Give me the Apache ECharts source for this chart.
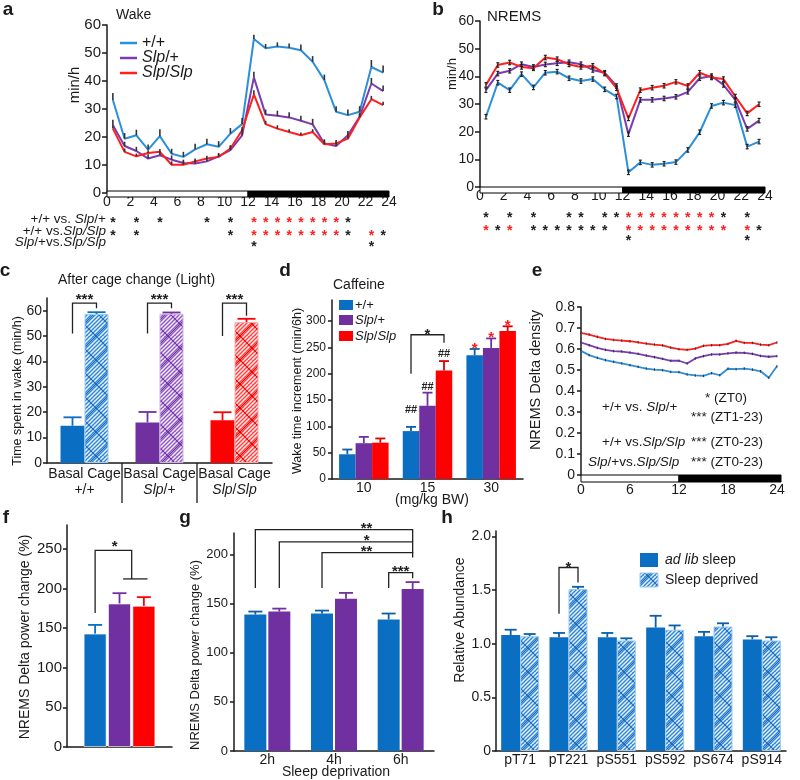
<!DOCTYPE html>
<html>
<head>
<meta charset="utf-8">
<script src="https://cdn.jsdelivr.net/npm/echarts@6.0.0/dist/echarts.min.js"></script>
<style>
html,body{margin:0;padding:0;background:#ffffff;}
#chart{width:800px;height:780px;}
</style>
</head>
<body>
<div id="chart"></div>
<script>
// ================= DATA =================
// Panel a / b : hourly values (ZT, half-hour centred)
const hours = [0.5,1.5,2.5,3.5,4.5,5.5,6.5,7.5,8.5,9.5,10.5,11.5,12.5,13.5,14.5,15.5,16.5,17.5,18.5,19.5,20.5,21.5,22.5,23.5];
const minhTicks = [0,10,20,30,40,50,60];

const wakeWT  = [33.2,19.4,20.6,15.5,20.3,14.0,12.9,15.6,17.4,16.5,21.2,24.6,55.0,51.7,52.3,51.9,51.0,46.9,40.3,29.0,27.8,29.0,45.0,43.0];
const wakeHet = [24.2,16.8,15.0,12.3,13.5,11.9,10.7,10.5,11.3,13.1,15.3,20.6,41.3,28.0,27.6,27.0,25.8,24.5,17.7,16.8,20.6,27.2,39.1,36.4];
const wakeHom = [23.0,14.7,13.1,14.3,14.7,10.1,10.1,11.3,12.3,12.9,15.9,22.4,35.2,24.6,23.0,21.8,20.6,21.8,17.4,17.7,19.4,27.0,33.5,31.4];
const wakeErrWT  = [2.5,2.0,2.0,1.8,2.5,1.8,1.8,2.0,2.0,2.0,2.0,2.2,1.5,1.5,1.5,1.5,2.0,2.0,2.0,2.0,2.0,2.0,2.5,2.5];
const wakeErrHet = [2.0,1.5,1.5,1.5,1.5,1.5,1.2,1.2,1.2,1.2,1.5,2.0,2.0,1.8,1.8,1.8,1.8,2.0,1.5,1.5,1.5,1.5,2.0,2.0];
const wakeErrHom = [1.2,1.2,1.0,1.0,1.0,1.2,1.2,1.0,1.0,1.0,1.2,1.2,1.5,1.2,1.2,1.0,1.0,1.0,1.2,1.2,1.2,1.2,1.2,1.2];

const nremWT  = [25.4,37.7,35.0,40.8,36.0,41.3,41.7,39.3,38.3,39.0,35.3,32.7,5.3,8.9,8.0,8.4,9.0,13.4,19.8,29.3,30.5,29.6,14.6,16.4];
const nremHet = [35.0,41.0,42.0,44.4,43.4,44.3,44.7,45.1,44.4,42.3,41.3,36.5,19.1,31.5,31.5,32.0,32.6,34.4,39.3,40.1,36.9,31.5,21.0,24.0];
const nremHom = [36.9,44.1,45.0,43.4,42.9,46.8,46.2,44.3,43.4,43.8,41.0,35.7,24.8,35.0,35.9,36.6,38.0,36.5,41.3,39.6,39.0,32.7,26.6,29.9];
const nremErr = [0.8,0.8,0.8,0.8,0.8,0.8,0.8,0.8,0.8,0.8,0.8,0.8,0.8,0.8,0.8,0.8,0.8,0.8,0.8,0.8,0.8,0.8,0.8,0.8];

const lightDarkSpans = [[0,12],[12,24]];
const lightDarkSpansE = [[0,12],[12,24.5]];

// significance rows (hours where a star is drawn)
const aStars = [
  {black:[0.5,2.5,4.5,8.5,10.5,20.5], red:[12.5,13.5,14.5,15.5,16.5,17.5,18.5,19.5]},
  {black:[0.5,2.5,10.5,20.5,23.5], red:[12.5,13.5,14.5,15.5,16.5,17.5,18.5,19.5,22.5]},
  {black:[12.5,22.5], red:[]}
];
const bStars = [
  {black:[0.5,2.5,4.5,7.5,8.5,10.5,11.5,20.5,22.5], red:[12.5,13.5,14.5,15.5,16.5,17.5,18.5,19.5]},
  {black:[1.5,4.5,5.5,6.5,7.5,8.5,9.5,10.5,23.5], red:[0.5,2.5,12.5,13.5,14.5,15.5,16.5,17.5,18.5,19.5,20.5,22.5]},
  {black:[12.5,22.5], red:[]}
];
const starRowLabels = ['+/+ vs. {i|Slp}/+', '+/+ vs.{i|Slp/Slp}', '{i|Slp}/+vs.{i|Slp/Slp}'];

// Panel c
const cGroups = ['+/+','Slp/+','Slp/Slp'];
const cTicks = [0,10,20,30,40,50,60];
const cBasal = [14.7,16.0,16.8];
const cBasalErr = [3.3,4.1,3.2];
const cCage = [58.7,58.8,55.5];
const cCageErr = [0.7,0.5,1.3];

// Panel d
const dDoses = ['10','15','30'];
const dTicks = [0,50,100,150,200,250,300];
const dWT = [47,91,235],  dWTErr = [9,8,12];
const dHet = [68,139,249], dHetErr = [12,25,18];
const dHom = [69,206,281], dHomErr = [8,18,9];

// Panel e
const eHours = [0,1,2,3,4,5,6,7,8,9,10,11,12,13,14,15,16,17,18,19,20,21,22,23,24];
const eTicksX = [0,6,12,18,24];
const eTicksY = [0,0.1,0.2,0.3,0.4,0.5,0.6,0.7,0.8];
const eHom = [0.677,0.669,0.658,0.648,0.643,0.640,0.637,0.632,0.626,0.621,0.617,0.607,0.599,0.596,0.602,0.615,0.618,0.618,0.624,0.639,0.629,0.629,0.621,0.618,0.631];
const eHet = [0.631,0.618,0.605,0.596,0.590,0.588,0.583,0.577,0.569,0.561,0.553,0.544,0.544,0.531,0.555,0.566,0.574,0.574,0.579,0.583,0.582,0.577,0.567,0.563,0.566];
const eWT  = [0.591,0.571,0.558,0.547,0.539,0.531,0.523,0.515,0.507,0.502,0.499,0.491,0.490,0.479,0.474,0.472,0.485,0.475,0.506,0.504,0.507,0.502,0.494,0.463,0.518];
const eErr = [0.006,0.006,0.006,0.006,0.006,0.006,0.006,0.006,0.006,0.006,0.006,0.006,0.006,0.006,0.006,0.006,0.006,0.006,0.006,0.006,0.006,0.006,0.006,0.006,0.006];

// Panel f
const fTicks = [0,50,100,150,200,250];
const fVals = [143,181,178];
const fErr = [11,13,11];

// Panel g
const gCats = ['2h','4h','6h'];
const gTicks = [0,50,100,150,200];
const gWT = [139,140,134], gWTErr = [3,3,6];
const gHet = [142,155,165], gHetErr = [3,6,7];

// Panel h
const hCats = ['pT71','pT221','pS551','pS592','pS674','pS914'];
const hTicks = [0,0.5,1.0,1.5,2.0];
const hAdlib = [1.08,1.06,1.06,1.15,1.07,1.04];
const hAdlibErr = [0.05,0.04,0.04,0.11,0.04,0.03];
const hSD = [1.07,1.51,1.03,1.13,1.16,1.03];
const hSDErr = [0.02,0.02,0.02,0.04,0.03,0.03];

// ================= STYLE =================
const FONT = "'Liberation Sans', Arial, Helvetica, sans-serif";
const INK = '#1a1a1a';
const LC = {blue:'#2b8fd9', purple:'#7a3cb0', red:'#ff1f1f'};
const BC = {blue:'#0a6fc2', purple:'#7030a0', red:'#ff0000'};

function hatch(base, lattice) {
  const s = 24;
  const cv = document.createElement('canvas');
  cv.width = s; cv.height = s;
  const g = cv.getContext('2d');
  g.fillStyle = base; g.fillRect(0,0,s,s);
  g.strokeStyle = 'rgba(255,255,255,0.9)'; g.lineWidth = 1.5;
  for (let k = -s; k <= 2*s; k += 4) { g.beginPath(); g.moveTo(k, s); g.lineTo(k + s, 0); g.stroke(); }
  g.strokeStyle = lattice; g.lineWidth = 1.2;
  g.beginPath(); g.moveTo(0,0); g.lineTo(s,s); g.stroke();
  g.beginPath(); g.moveTo(0,s); g.lineTo(s,0); g.stroke();
  return cv;
}
const PAT = {
  blue: hatch('#2f87d6', '#1a6cbc'),
  purple: hatch('#9158c4', '#7231a6'),
  red: hatch('#ff4242', '#e20000')
};
const BORDER = {blue:'#9ccbf0', purple:'#cdb0e6', red:'#ffa8a8'};

const RICH = (size) => ({i:{fontStyle:'italic', fontSize:size, fontFamily:FONT, fill:INK, color:INK}});

// ================= HELPERS =================
function yAx(gi, max, ticks, fs, margin, tickLen, fmt) {
  return {
    type:'value', gridIndex:gi, min:0, max:max, interval: ticks[1]-ticks[0],
    axisLine:{show:true, lineStyle:{color:INK, width:1.5}},
    axisTick:{show:true, length:tickLen, lineStyle:{color:INK, width:1.5}, customValues:ticks},
    axisLabel:{color:INK, fontSize:fs, fontFamily:FONT, margin:margin, customValues:ticks, showMaxLabel:true,
      formatter: fmt || (v => String(v))},
    splitLine:{show:false}
  };
}
function xVal(gi, max, interval, fs, margin, ticks) {
  return {
    type:'value', gridIndex:gi, min:0, max:max, interval:interval,
    axisLine:{show:false}, axisTick:{show:false}, splitLine:{show:false},
    axisLabel:{color:INK, fontSize:fs, fontFamily:FONT, margin:margin, customValues:ticks}
  };
}
function xCat(gi, cats, fs, margin, extra) {
  return Object.assign({
    type:'category', gridIndex:gi, data:cats,
    axisLine:{show:true, lineStyle:{color:INK, width:1.5}},
    axisTick:{show:false}, splitLine:{show:false},
    axisLabel:{color:INK, fontSize:fs, fontFamily:FONT, margin:margin, interval:0}
  }, extra || {});
}
function lineS(gi, xs, ys, color, w) {
  return {type:'line', xAxisIndex:gi, yAxisIndex:gi, data: xs.map((x,i)=>[x, ys[i]]),
    symbol:'none', showSymbol:false, lineStyle:{color:color, width:w}, itemStyle:{color:color}, silent:true, z:2};
}
function errS(gi, xs, ys, errs, o) {
  return {type:'custom', xAxisIndex:gi, yAxisIndex:gi, clip:false, silent:true, z:o.z || 3,
    data: xs.map((x,i)=>[x, ys[i], errs[i]]), encode:{x:0, y:1},
    renderItem(params, api) {
      const x = api.value(0), y = api.value(1), e = api.value(2);
      const p0 = api.coord([x, o.both ? y - e : y]), p1 = api.coord([x, y + e]);
      const st = {stroke:o.color, lineWidth:o.lw};
      const ch = [{type:'line', shape:{x1:p0[0], y1:p0[1], x2:p1[0], y2:p1[1]}, style:st}];
      if (o.cap) {
        ch.push({type:'line', shape:{x1:p1[0]-o.cap, y1:p1[1], x2:p1[0]+o.cap, y2:p1[1]}, style:st});
        if (o.both) ch.push({type:'line', shape:{x1:p0[0]-o.cap, y1:p0[1], x2:p0[0]+o.cap, y2:p0[1]}, style:st});
      }
      return {type:'group', children:ch};
    }};
}
function lightDark(gi, spans, off, h) {
  return {type:'custom', xAxisIndex:gi, yAxisIndex:gi, clip:false, silent:true, z:4,
    data: spans.map((s,i)=>[s[0], 0, s[1], i]), encode:{x:0, y:1},
    renderItem(params, api) {
      const a = api.coord([api.value(0), 0]), b = api.coord([api.value(2), 0]);
      const dark = api.value(3) === 1;
      return {type:'rect', shape:{x:a[0], y:a[1]+off, width:b[0]-a[0], height:h},
        style:{fill: dark ? '#000000' : '#ffffff', stroke:'#000000', lineWidth:1}};
    }};
}
function starRows(gi, rows, offs) {
  const pts = [];
  rows.forEach((r, ri) => {
    r.black.forEach(h => pts.push([h, 0, ri, 0]));
    r.red.forEach(h => pts.push([h, 0, ri, 1]));
  });
  return {type:'custom', xAxisIndex:gi, yAxisIndex:gi, clip:false, silent:true, z:6,
    data: pts, encode:{x:0, y:1},
    renderItem(params, api) {
      const p = api.coord([api.value(0), 0]);
      return {type:'text', style:{text:'*', x:p[0], y:p[1] + offs[api.value(2)] + 4,
        textAlign:'center', textVerticalAlign:'middle',
        font:"bold 14px 'Liberation Sans', Arial, sans-serif",
        fill: api.value(3) === 1 ? '#ff2020' : '#222222'}};
    }};
}
function bar(gi, vals, w, gap, colorFn, extra) {
  return Object.assign({type:'bar', xAxisIndex:gi, yAxisIndex:gi, barWidth:w, barGap:gap, silent:true, z:2,
    data: vals.map((v,i)=>({value:v, itemStyle: colorFn(i)}))}, extra || {});
}
function barErr(gi, n, step, groups, cap, lw) {
  const items = [];
  groups.forEach(g => g.vals.forEach((v, ci) => items.push({c:ci, s:g.slot, v:v, e:g.errs[ci],
    col: Array.isArray(g.color) ? g.color[ci] : g.color})));
  return {type:'custom', xAxisIndex:gi, yAxisIndex:gi, clip:false, silent:true, z:3,
    data: items.map(it => [it.c, it.v + it.e]), encode:{x:0, y:1},
    renderItem(params, api) {
      const it = items[params.dataIndex];
      const b = api.coord([it.c, it.v]), t = api.coord([it.c, it.v + it.e]);
      const x = b[0] + (it.s - (n-1)/2) * step;
      const st = {stroke:it.col, lineWidth:lw};
      return {type:'group', children:[
        {type:'line', shape:{x1:x, y1:b[1], x2:x, y2:t[1]}, style:st},
        {type:'line', shape:{x1:x-cap, y1:t[1], x2:x+cap, y2:t[1]}, style:st}
      ]};
    }};
}
function brackets(gi, list, n, step, fs, dy) {
  return {type:'custom', xAxisIndex:gi, yAxisIndex:gi, clip:false, silent:true, z:10,
    data: list.map(b => [b.l[0], b.top]), encode:{x:0, y:1},
    renderItem(params, api) {
      const b = list[params.dataIndex];
      const X = (c, s) => api.coord([c, 0])[0] + (s - (n-1)/2) * step;
      const Y = v => api.coord([0, v])[1];
      const xl = X(b.l[0], b.l[1]), xr = X(b.r[0], b.r[1]), yt = Y(b.top);
      const st = {stroke:'#222222', lineWidth:1.3, fill:'none'};
      const ch = [{type:'polyline', shape:{points:[[xl, Y(b.l[2])], [xl, yt], [xr, yt], [xr, Y(b.r[2])]]}, style:st}];
      if (b.sub) ch.push({type:'line', shape:{x1:X(b.l[0], b.sub[0]), y1:Y(b.r[2]), x2:X(b.l[0], b.sub[1]), y2:Y(b.r[2])}, style:st});
      const tx = b.t ? X(b.t[0], b.t[1]) : (xl + xr) / 2;
      ch.push({type:'text', style:{text:b.text, x:tx, y:yt + dy, textAlign:'center', textVerticalAlign:'bottom',
        font:"bold " + fs + "px 'Liberation Sans', Arial, sans-serif", fill:'#222222'}});
      return {type:'group', children:ch};
    }};
}
function marks(gi, list, n, step) {
  return {type:'custom', xAxisIndex:gi, yAxisIndex:gi, clip:false, silent:true, z:10,
    data: list.map(m => [m.c, m.v]), encode:{x:0, y:1},
    renderItem(params, api) {
      const m = list[params.dataIndex];
      const p = api.coord([m.c, m.v]);
      return {type:'text', style:{text:m.t, x:p[0] + (m.s - (n-1)/2) * step, y:p[1] + (m.dy || 0),
        textAlign:'center', textVerticalAlign:'middle',
        font:"bold " + m.fs + "px 'Liberation Sans', Arial, sans-serif", fill:m.col}};
    }};
}

// ============ annotations (data-space) ============
const cBrackets = [
  {l:[0,0,51], r:[0,1,61], top:63, text:'***'},
  {l:[1,0,51], r:[1,1,61], top:63, text:'***'},
  {l:[2,0,50], r:[2,1,58], top:63, text:'***'}
];
const dBrackets = [{l:[1,0,200], r:[1,2,259], top:274, text:'*'}];
const dMarks = [
  {c:1, s:0, v:131, t:'##', fs:11, col:'#222222'},
  {c:1, s:1, v:175, t:'##', fs:11, col:'#222222'},
  {c:1, s:2, v:238, t:'##', fs:11, col:'#222222'},
  {c:2, s:0, v:255, t:'*', fs:15, col:'#ff1a1a', dy:4},
  {c:2, s:1, v:276, t:'*', fs:15, col:'#ff1a1a', dy:4},
  {c:2, s:2, v:299, t:'*', fs:15, col:'#ff1a1a', dy:4}
];
const fBrackets = [{l:[0,0,169], r:[0,1.5,212], top:248, sub:[1.15,2.15], text:'*', t:[0,0.8]}];
const gBrackets = [
  {l:[0,0,166], r:[2,1,213], top:225.5, text:'**', t:[2,-0.92]},
  {l:[0,1,166], r:[2,1,202], top:213, text:'*', t:[2,-0.92]},
  {l:[1,0,166], r:[2,1,197], top:202, text:'**', t:[2,-0.92]},
  {l:[2,0,166], r:[2,1,176], top:181.6, text:'***'}
];
const hBrackets = [{l:[1,0,1.28], r:[1,1,1.57], top:1.71, text:'*'}];

// ============ OPTION ============
const fmt1 = v => (v === 0 ? '0' : v.toFixed(1));
const solid3 = [BC.blue, BC.purple, BC.red];
const keys3 = ['blue','purple','red'];

const grids = [
  {left:107, top:25,  width:282, height:168},  // a
  {left:480, top:21,  width:285, height:166},  // b
  {left:47,  top:298, width:225, height:165},  // c
  {left:332, top:300, width:191, height:179},  // d
  {left:581, top:307, width:200, height:168},  // e
  {left:67,  top:525, width:105, height:222},  // f
  {left:234, top:533, width:200, height:218},  // g
  {left:496, top:531, width:290, height:220}   // h
].map(g => Object.assign({outerBoundsMode:'none', containLabel:false}, g));

const xAxes = [
  xVal(0, 24, 2, 14, 2),
  xVal(1, 24, 2, 14, 2),
  xCat(2, cGroups, 14, 2, {axisLabel:{color:INK, fontSize:14, fontFamily:FONT, margin:3, interval:0, lineHeight:16,
      formatter: name => 'Basal Cage\n' + name.replace(/Slp/g, '{i|Slp}'),
      rich:{i:{fontStyle:'italic', fontSize:14, fontFamily:FONT, color:INK, lineHeight:16}}}}),
  xCat(3, dDoses, 14, 2),
  xVal(4, 24.5, 6, 14, 8, eTicksX),
  xCat(5, [''], 14, 2),
  xCat(6, gCats, 14, 2),
  xCat(7, hCats, 14, 2)
];
const yAxes = [
  yAx(0, 60, minhTicks, 15, 6, 5),
  yAx(1, 60, minhTicks, 14, 6, 5),
  yAx(2, 65, cTicks, 14, 5, 4),
  yAx(3, 340, dTicks, 12, 6, 4),
  yAx(4, 0.8, eTicksY, 14, 6, 4, fmt1),
  yAx(5, 280, fTicks, 15, 5, 4),
  yAx(6, 222, gTicks, 13, 6, 4),
  yAx(7, 2.05, hTicks, 14, 5, 4, fmt1)
];

const series = [];
// ---- a ----
series.push(lineS(0, hours, wakeWT, LC.blue, 2));
series.push(lineS(0, hours, wakeHet, LC.purple, 2));
series.push(lineS(0, hours, wakeHom, LC.red, 2));
series.push(errS(0, hours, wakeWT, wakeErrWT, {color:'#333333', lw:1.6}));
series.push(errS(0, hours, wakeHet, wakeErrHet, {color:'#333333', lw:1.6}));
series.push(errS(0, hours, wakeHom, wakeErrHom, {color:'#333333', lw:1.6}));
series.push(lightDark(0, lightDarkSpans, -2, 6));
series.push(starRows(0, aStars, [26, 39, 50]));
// ---- b ----
series.push(lineS(1, hours, nremWT, LC.blue, 2));
series.push(lineS(1, hours, nremHet, LC.purple, 2));
series.push(lineS(1, hours, nremHom, LC.red, 2));
series.push(errS(1, hours, nremWT, nremErr, {color:'#222222', lw:1.2, both:true, cap:1.5}));
series.push(errS(1, hours, nremHet, nremErr, {color:'#222222', lw:1.2, both:true, cap:1.5}));
series.push(errS(1, hours, nremHom, nremErr, {color:'#222222', lw:1.2, both:true, cap:1.5}));
series.push(lightDark(1, lightDarkSpans, 0, 6));
series.push(starRows(1, bStars, [27, 40, 50]));
// ---- c ----
series.push(bar(2, cBasal, 24, '0%', i => ({color:solid3[i]})));
series.push(bar(2, cCage, 24, '0%', i => ({color:{image:PAT[keys3[i]], repeat:'repeat'}, borderColor:BORDER[keys3[i]], borderWidth:1})));
series.push(barErr(2, 2, 24, [
  {slot:0, vals:cBasal, errs:cBasalErr, color:solid3},
  {slot:1, vals:cCage, errs:cCageErr, color:solid3}], 9, 1.8));
series.push(brackets(2, cBrackets, 2, 24, 15, 4));
series.push({type:'custom', xAxisIndex:2, yAxisIndex:2, clip:false, silent:true, z:5,
  data:[[0,0],[1,0]], encode:{x:0, y:1},
  renderItem(params, api) {
    const i = params.dataIndex;
    const p = api.coord([i, 0]), q = api.coord([i + 1, 0]);
    const x = (p[0] + q[0]) / 2;
    return {type:'line', shape:{x1:x, y1:p[1], x2:x, y2:p[1] + 40}, style:{stroke:INK, lineWidth:1.3}};
  }});
// ---- d ----
series.push(bar(3, dWT, 16.5, '0%', () => ({color:BC.blue})));
series.push(bar(3, dHet, 16.5, '0%', () => ({color:BC.purple})));
series.push(bar(3, dHom, 16.5, '0%', () => ({color:BC.red})));
series.push(barErr(3, 3, 16.5, [
  {slot:0, vals:dWT, errs:dWTErr, color:'#0b5ea8'},
  {slot:1, vals:dHet, errs:dHetErr, color:BC.purple},
  {slot:2, vals:dHom, errs:dHomErr, color:'#e00000'}], 5, 1.8));
series.push(brackets(3, dBrackets, 3, 16.5, 15, 8));
series.push(marks(3, dMarks, 3, 16.5));
// ---- e ----
series.push(lineS(4, eHours, eWT, LC.blue, 1.8));
series.push(lineS(4, eHours, eHet, LC.purple, 1.8));
series.push(lineS(4, eHours, eHom, LC.red, 1.8));
series.push(errS(4, eHours, eWT, eErr, {color:'#333333', lw:1, both:true}));
series.push(errS(4, eHours, eHet, eErr, {color:'#333333', lw:1, both:true}));
series.push(errS(4, eHours, eHom, eErr, {color:'#333333', lw:1, both:true}));
series.push(lightDark(4, lightDarkSpansE, 0, 7));
// ---- f ----
fVals.forEach((v, i) => series.push(bar(5, [v], 23, '6%', () => ({color:solid3[i], borderColor:'rgba(255,255,255,0.6)', borderWidth:1}))));
series.push(barErr(5, 3, 24.38, fVals.map((v, i) => ({slot:i, vals:[v], errs:[fErr[i]], color:solid3[i]})), 7, 1.8));
series.push(brackets(5, fBrackets, 3, 24.38, 15, 4));
// ---- g ----
series.push(bar(6, gWT, 22, '9%', () => ({color:BC.blue})));
series.push(bar(6, gHet, 22, '9%', () => ({color:BC.purple})));
series.push(barErr(6, 2, 23.98, [
  {slot:0, vals:gWT, errs:gWTErr, color:'#0b5ea8'},
  {slot:1, vals:gHet, errs:gHetErr, color:BC.purple}], 7, 1.8));
series.push(brackets(6, gBrackets, 2, 23.98, 15, 7));
// ---- h ----
series.push(bar(7, hAdlib, 19, '0%', () => ({color:BC.blue})));
series.push(bar(7, hSD, 19, '0%', () => ({color:{image:PAT.blue, repeat:'repeat'}, borderColor:BORDER.blue, borderWidth:1})));
series.push(barErr(7, 2, 19, [
  {slot:0, vals:hAdlib, errs:hAdlibErr, color:'#0b5ea8'},
  {slot:1, vals:hSD, errs:hSDErr, color:'#0b5ea8'}], 6, 1.8));
series.push(brackets(7, hBrackets, 2, 19, 15, 8));

// ============ GRAPHIC TEXT ============
function T(x, y, text, size, o) {
  o = o || {};
  return {type:'text', x:x, y:y, rotation:o.rot || 0, z:100, silent:true,
    style:{text:text, x:0, y:0, textAlign:o.align || 'left', textVerticalAlign:'middle',
      fontSize:size, fontFamily:FONT, fontWeight:o.bold ? 'bold' : 'normal', fill:o.color || INK, rich:RICH(size)}};
}
const ROT = Math.PI / 2;
const G = [];
// panel letters
[['a',8,10],['b',438,10],['c',5,271],['d',285,271],['e',537,271],['f',6,518],['g',185,518],['h',447,518]]
  .forEach(p => G.push(T(p[1], p[2], p[0], 19, {bold:true, align:'center'})));
// titles
G.push(T(116, 15, 'Wake', 14));
G.push(T(487, 17, 'NREMS', 15));
G.push(T(58, 280, 'After cage change (Light)', 14));
G.push(T(333, 285, 'Caffeine', 14));
// y-axis names
G.push(T(75, 85, 'min/h', 15, {rot:ROT, align:'center'}));
G.push(T(452, 74, 'min/h', 13, {rot:ROT, align:'center'}));
G.push(T(18, 391, 'Time spent in wake (min/h)', 12.5, {rot:ROT, align:'center'}));
G.push(T(298, 391, 'Wake time increment (min/6h)', 12.5, {rot:ROT, align:'center'}));
G.push(T(536, 380, 'NREMS Delta density', 14.5, {rot:ROT, align:'center'}));
G.push(T(25, 637, 'NREMS Delta power change (%)', 14, {rot:ROT, align:'center'}));
G.push(T(195, 655, 'NREMS Delta power change (%)', 13, {rot:ROT, align:'center'}));
G.push(T(460, 620, 'Relative Abundance', 14, {rot:ROT, align:'center'}));
// extra x-axis names
G.push(T(432, 500, '(mg/kg BW)', 14, {align:'center'}));
G.push(T(336, 772, 'Sleep deprivation', 14, {align:'center'}));
// legend a
[[LC.blue,'+/+',43],[LC.purple,'{i|Slp}/+',58],[LC.red,'{i|Slp}/{i|Slp}',73]].forEach(l => {
  G.push({type:'line', silent:true, z:100, shape:{x1:120, y1:l[2], x2:137, y2:l[2]}, style:{stroke:l[0], lineWidth:2.5}});
  G.push(T(142, l[2], l[1], 16));
});
// star row labels (a)
starRowLabels.forEach((s, i) => G.push(T(106, [219, 231, 242][i], s, 13.5, {align:'right'})));
// legend d
[[BC.blue,'+/+',300],[BC.purple,'{i|Slp}/+',315],[BC.red,'{i|Slp}/{i|Slp}',331]].forEach(l => {
  G.push({type:'rect', silent:true, z:100, shape:{x:339, y:l[2], width:14, height:10}, style:{fill:l[0]}});
  G.push(T(355, l[2] + 5, l[1], 13));
});
// panel e annotations
G.push(T(602, 407, '+/+ vs. {i|Slp}/+', 13.5));
G.push(T(705, 398, '* (ZT0)', 13.5));
G.push(T(691, 417, '*** (ZT1-23)', 13.5));
G.push(T(602, 442, '+/+ vs.{i|Slp/Slp}', 13.5));
G.push(T(691, 442, '*** (ZT0-23)', 13.5));
G.push(T(588, 462, '{i|Slp}/+vs.{i|Slp/Slp}', 13.5));
G.push(T(691, 462, '*** (ZT0-23)', 13.5));
// legend h
G.push({type:'rect', silent:true, z:100, shape:{x:640, y:553, width:18, height:14}, style:{fill:BC.blue}});
G.push({type:'rect', silent:true, z:100, shape:{x:640, y:573, width:18, height:14}, style:{fill:{image:PAT.blue, repeat:'repeat'}, stroke:BORDER.blue, lineWidth:1}});
G.push(T(665, 560, '{i|ad lib} sleep', 14));
G.push(T(665, 580, 'Sleep deprived', 14));

const option = {
  animation:false,
  backgroundColor:'#ffffff',
  textStyle:{fontFamily:FONT, color:INK},
  grid:grids,
  xAxis:xAxes,
  yAxis:yAxes,
  series:series,
  graphic:{elements:G}
};

const chart = echarts.init(document.getElementById('chart'), null, {renderer:'canvas', width:800, height:780});
chart.setOption(option);
</script>
</body>
</html>
